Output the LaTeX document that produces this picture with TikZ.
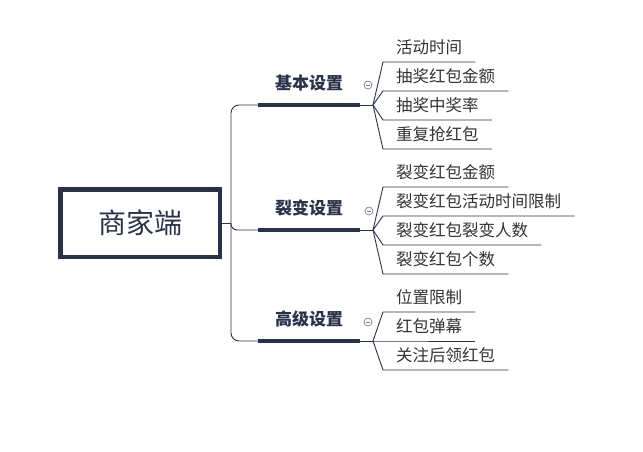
\documentclass[tikz,border=0pt]{standalone}
\usepackage{fontspec}
\setmainfont{Noto Sans CJK SC}
\usepackage{tikz}

\definecolor{navy}{HTML}{28324A}
\definecolor{itemtext}{HTML}{333333}
\tikzset{
  topic/.style={draw=navy,line width=4.5pt,minimum width=159.5pt,minimum height=67.5pt,
    font=\fontsize{28}{30}\selectfont,text=navy},
  branch/.style={anchor=south,minimum width=102pt,text height=13pt,text depth=0pt,
    inner ysep=15pt,font=\fontsize{17}{19}\selectfont\bfseries,text=navy},
  item/.style={anchor=south west,inner xsep=13pt,inner ysep=8.5pt,text height=12pt,
    text depth=0pt,font=\fontsize{16.5}{18}\selectfont,text=itemtext},
  link/.style={draw=navy,line width=0.9pt},
  bar/.style={draw=navy,line width=3.5pt},
  fold/.style={circle,draw=gray,line width=0.7pt,minimum size=8pt,inner sep=0pt,
    path picture={\draw[gray,line width=0.7pt]
      ([xshift=-2.2pt]path picture bounding box.center) --
      ([xshift=2.2pt]path picture bounding box.center);}}
}

\begin{document}
\begin{tikzpicture}[x=1pt,y=-1pt]
      \useasboundingbox (0,0) rectangle (643,452);
      \node[topic] (0) at (140,223) {商家端};
      \coordinate (t) at (231,223);

      \node[branch] (1) at (309,105) {基本设置};
      \node[branch] (2) at (309,230) {裂变设置};
      \node[branch] (3) at (309,341) {高级设置};

      \draw[link] (0.east) -- (t);
      \draw[link,rounded corners=8pt] (t) |- (1.south west);
      \draw[link,rounded corners=6pt] (t) |- (2.south west);
      \draw[link,rounded corners=8pt] (t) |- (3.south west);

      \draw[bar] (1.south west) -- (1.south east);
      \draw[bar] (2.south west) -- (2.south east);
      \draw[bar] (3.south west) -- (3.south east);

      \node[fold] (c1) at (368,85) {};
      \node[fold] (c2) at (369,211) {};
      \node[fold] (c3) at (368,322) {};

      %% basic settings
      \coordinate (f1) at (373,105);
      \node[item] (11) at (383,62) {活动时间};
      \node[item] (12) at (383,91) {抽奖红包金额};
      \node[item] (13) at (383,120) {抽奖中奖率};
      \node[item] (14) at (383,149) {重复抢红包};
      \draw[link] (1.south east) -- (f1);
      \draw[link] (f1) -- (11.south west) -- (11.south east);
      \draw[link] (f1) -- (12.south west) -- (12.south east);
      \draw[link] (f1) -- (13.south west) -- (13.south east);
      \draw[link] (f1) -- (14.south west) -- (14.south east);

      %% fission settings
      \coordinate (f2) at (373,230);
      \node[item] (21) at (383,187) {裂变红包金额};
      \node[item] (22) at (383,216) {裂变红包活动时间限制};
      \node[item] (23) at (383,245) {裂变红包裂变人数};
      \node[item] (24) at (383,274) {裂变红包个数};
      \draw[link] (2.south east) -- (f2);
      \draw[link] (f2) -- (21.south west) -- (21.south east);
      \draw[link] (f2) -- (22.south west) -- (22.south east);
      \draw[link] (f2) -- (23.south west) -- (23.south east);
      \draw[link] (f2) -- (24.south west) -- (24.south east);

      %% advanced settings
      \coordinate (f3) at (373,341);
      \node[item] (31) at (383,312) {位置限制};
      \node[item] (32) at (383,341) {红包弹幕};
      \node[item] (33) at (383,370) {关注后领红包};
      \draw[link] (3.south east) -- (f3);
      \draw[link] (f3) -- (31.south west) -- (31.south east);
      \draw[link] (f3) -- (32.south west) -- (32.south east);
      \draw[link] (f3) -- (33.south west) -- (33.south east);
\end{tikzpicture}
\end{document}
